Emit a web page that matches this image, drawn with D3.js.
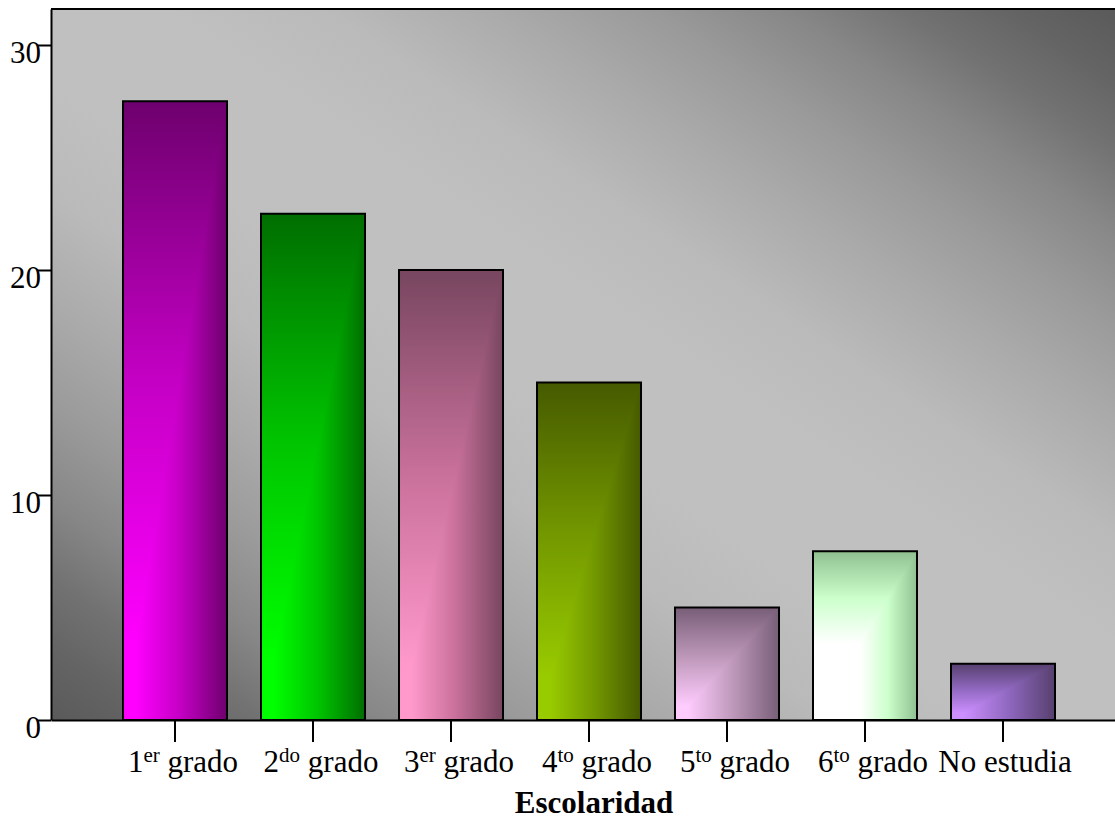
<!DOCTYPE html>
<html><head><meta charset="utf-8">
<script src="https://cdn.jsdelivr.net/npm/d3@7"></script>
<style>html,body{margin:0;padding:0;background:#fff;} svg{display:block;}</style>
</head><body><svg id="chart" width="1115" height="822"></svg>
<script>
// ---- data ----
const categories = ["1er grado", "2do grado", "3er grado", "4to grado", "5to grado", "6to grado", "No estudia"];
const values = [27.5, 22.5, 20, 15, 5, 7.5, 2.5];
const yTicks = [0, 10, 20, 30];
const axisTitle = "Escolaridad";

// ---- styles ----
const barStops = [
  [[0, "#ff00ff"], [0.12, "#ff00ff"], [0.55, "#c400c4"], [1, "#6e006e"]],
  [[0, "#00ff00"], [0.12, "#00ff00"], [0.55, "#00c400"], [1, "#006e00"]],
  [[0, "#ff99cc"], [0.12, "#ff99cc"], [0.55, "#c8709a"], [1, "#77465f"]],
  [[0, "#99cc00"], [0.12, "#99cc00"], [0.55, "#739800"], [1, "#465a00"]],
  [[0, "#ffccff"], [0.12, "#ffccff"], [0.55, "#bf99bb"], [1, "#785e78"]],
  [[0, "#ffffff"], [0.45, "#ffffff"], [0.72, "#ccffcc"], [1, "#90c090"]],
  [[0, "#cc8fff"], [0.12, "#cc8fff"], [0.55, "#9068c0"], [1, "#56406e"]]
];
const bgStops = [
  [0, "#5a5a5a"], [0.05, "#646464"], [0.1, "#727272"], [0.155, "#878787"], [0.22, "#9a9a9a"],
  [0.29, "#aaaaaa"], [0.37, "#bababa"], [0.45, "#c0c0c0"], [0.55, "#c0c0c0"], [0.63, "#bababa"],
  [0.71, "#aaaaaa"], [0.78, "#9a9a9a"], [0.845, "#878787"], [0.9, "#727272"], [0.95, "#646464"], [1, "#5a5a5a"]
];
const FONT = "'Liberation Serif', 'Times New Roman', serif";

const svg = d3.select("#chart");
const plot = {left: 51, right: 1115, top: 9, bottom: 720};

const x = d3.scaleBand().domain(categories).range([plot.left, plot.right])
  .paddingInner(34 / 138).paddingOuter(0.4783).align(0.5455);
const y = d3.scaleLinear().domain([0, 31.6]).range([plot.bottom, plot.top]);

const defs = svg.append("defs");
function addGrad(id, x1, y1, x2, y2, stops) {
  const g = defs.append("linearGradient").attr("id", id)
    .attr("x1", x1).attr("y1", y1).attr("x2", x2).attr("y2", y2);
  stops.forEach(s => g.append("stop").attr("offset", s[0]).attr("stop-color", s[1]));
}
addGrad("bg", 0, 1, 1, 0, bgStops);
barStops.forEach((st, i) => {
  addGrad("v" + i, 0, 1, 0, 0, st);
  addGrad("h" + i, 0, 0, 1, 0, st);
});

// background
svg.append("rect").attr("x", plot.left).attr("y", plot.top)
  .attr("width", plot.right - plot.left).attr("height", plot.bottom - plot.top)
  .attr("fill", "url(#bg)");

// bars
const bars = svg.append("g");
categories.forEach((c, i) => {
  const x0 = x(c), x1 = x(c) + x.bandwidth(), y0 = y(values[i]), yb = y(0);
  bars.append("rect").attr("x", x0).attr("y", y0).attr("width", x.bandwidth()).attr("height", yb - y0)
    .attr("fill", `url(#v${i})`);
  bars.append("path").attr("d", `M${x0},${yb}L${x1},${yb}L${x1},${y0}Z`).attr("fill", `url(#h${i})`);
  bars.append("rect").attr("x", x0).attr("y", y0).attr("width", x.bandwidth()).attr("height", yb - y0)
    .attr("fill", "none").attr("stroke", "#000").attr("stroke-width", 2);
});

// top border
svg.append("line").attr("x1", plot.left).attr("x2", plot.right).attr("y1", plot.top).attr("y2", plot.top)
  .attr("stroke", "#000").attr("stroke-width", 2);

// y axis
const yAxis = svg.append("g").attr("transform", `translate(${plot.left},0)`)
  .call(d3.axisLeft(y).tickValues(yTicks).tickSize(14).tickSizeOuter(0).tickPadding(-4).tickFormat(d3.format("d")));
yAxis.select(".domain").attr("stroke", "#000").attr("stroke-width", 2);
yAxis.selectAll(".tick line").attr("stroke", "#000").attr("stroke-width", 2);
yAxis.selectAll(".tick text").attr("font-family", FONT).attr("font-size", 31).attr("fill", "#000").attr("dy", "0.55em");

// x axis
const xAxis = svg.append("g").attr("transform", `translate(0,${plot.bottom})`)
  .call(d3.axisBottom(x).tickSize(22).tickSizeOuter(0).tickFormat(""));
xAxis.select(".domain").attr("stroke", "#000").attr("stroke-width", 2);
xAxis.selectAll(".tick line").attr("stroke", "#000").attr("stroke-width", 2);

// x tick labels with superscripts
const labels = svg.append("g").attr("font-family", FONT).attr("font-size", 31).attr("fill", "#000");
categories.forEach(c => {
  const m = c.match(/^(\d)(\D+?) (.*)$/);
  const t = labels.append("text").attr("text-anchor", "middle")
    .attr("x", x(c) + x.bandwidth() / 2 + (m ? 8 : 2)).attr("y", 772);
  if (m) {
    t.append("tspan").text(m[1]);
    t.append("tspan").attr("font-size", 21).attr("dy", -10).text(m[2]);
    t.append("tspan").attr("dy", 10).text(" " + m[3]);
  } else {
    t.text(c);
  }
});

// axis title
svg.append("text").attr("x", 594).attr("y", 813).attr("text-anchor", "middle")
  .attr("font-family", FONT).attr("font-size", 31).attr("font-weight", "bold").text(axisTitle);
</script>
</body></html>
